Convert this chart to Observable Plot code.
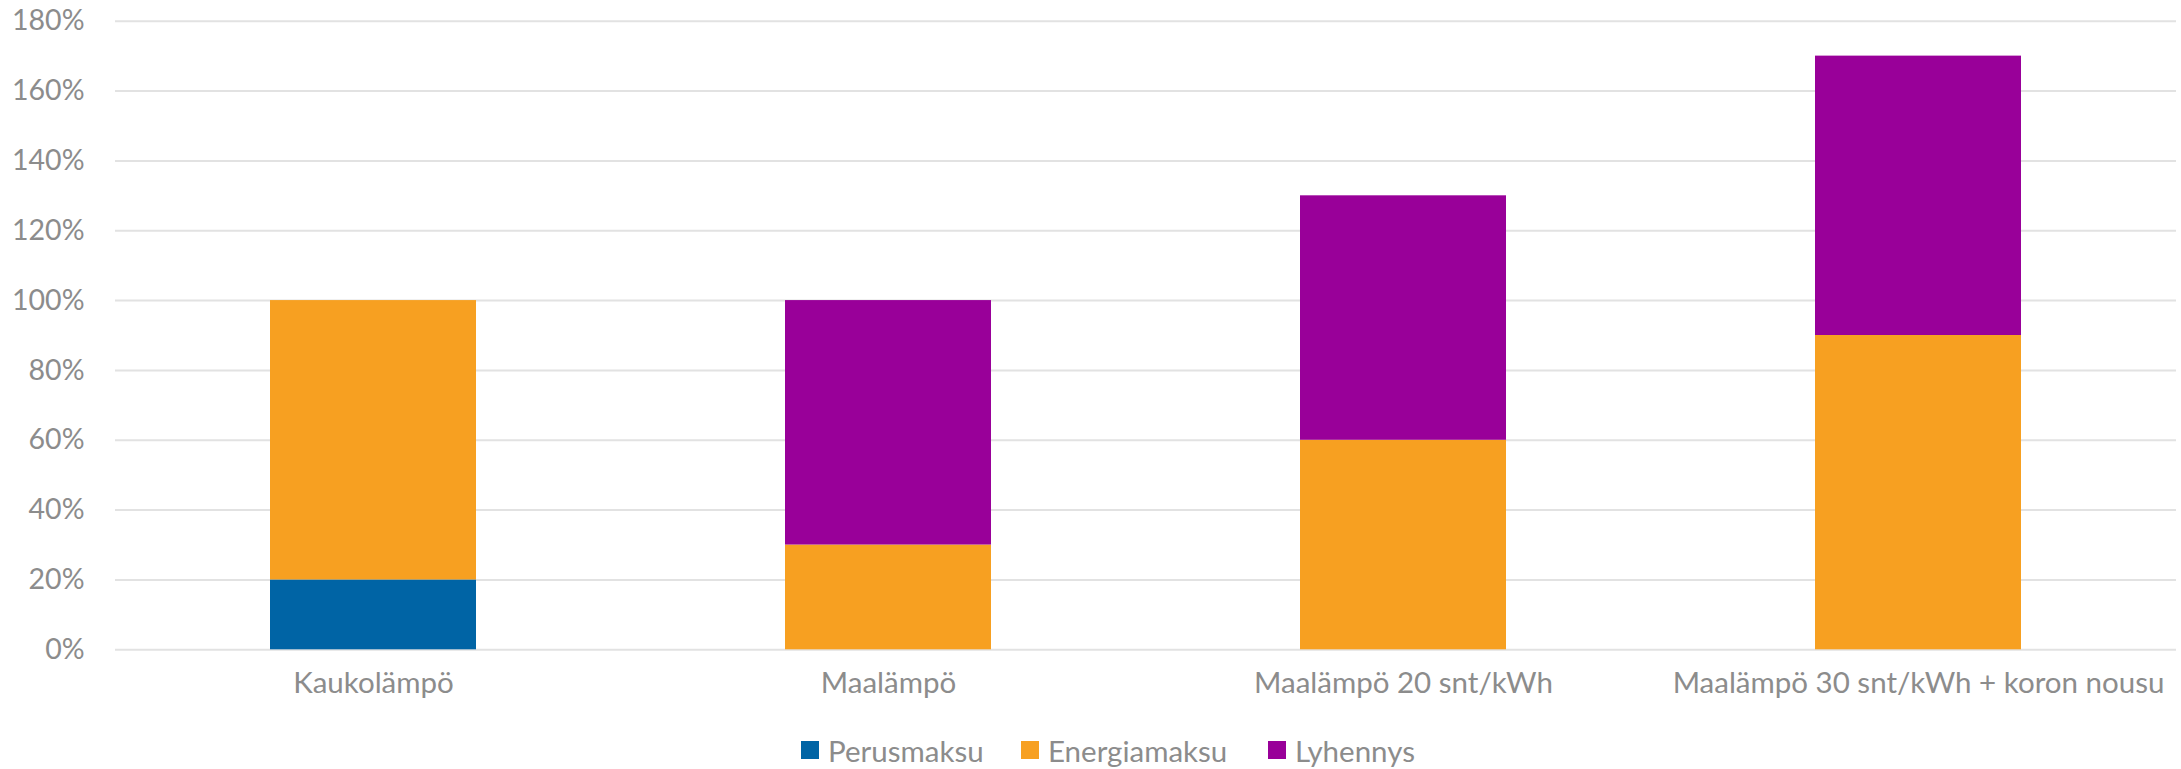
<!DOCTYPE html>
<html>
<head>
<meta charset="utf-8">
<script src="https://cdn.jsdelivr.net/npm/d3@7"></script>
<script src="https://cdn.jsdelivr.net/npm/@observablehq/plot@0.6"></script>
<style>
  body { margin: 0; background: #fff; font-family: Lato, sans-serif; }
  #legend { position: relative; height: 34px; margin-top: 13px; font-family: Lato, sans-serif; font-size: 29.5px; color: #8c8c8c; }
  #legend .item { position: absolute; top: 0; height: 34px; display: flex; align-items: center; white-space: nowrap; }
  #legend .sw { width: 18px; height: 18px; margin-right: 9px; display: inline-block; }
</style>
</head>
<body>
<div id="chart"></div>
<div id="legend"></div>
<script>
const categories = ["Kaukolämpö", "Maalämpö", "Maalämpö 20 snt/kWh", "Maalämpö 30 snt/kWh + koron nousu"];
const seriesNames = ["Perusmaksu", "Energiamaksu", "Lyhennys"];
const seriesColors = ["#0064A5", "#F7A021", "#990099"];
const perusmaksu = [20, 0, 0, 0];
const energiamaksu = [80, 30, 60, 90];
const lyhennys = [0, 70, 70, 80];
const yTicks = [0, 20, 40, 60, 80, 100, 120, 140, 160, 180];

const seriesValues = [perusmaksu, energiamaksu, lyhennys];
const data = [];
seriesNames.forEach((s, si) => {
  categories.forEach((c, ci) => {
    data.push({category: c, series: s, value: seriesValues[si][ci]});
  });
});

const W = 2181, H = 720;
const chart = Plot.plot({
  width: W,
  height: H,
  marginLeft: 115,
  marginRight: 5,
  marginTop: 20.7,
  marginBottom: H - 649.3,
  style: {fontFamily: "Lato, sans-serif", fontSize: "28.5px", color: "#8c8c8c", background: "#fff"},
  x: {type: "band", domain: categories, paddingInner: 0.6, paddingOuter: 0.3, label: null},
  y: {domain: [0, 180], label: null},
  color: {domain: seriesNames, range: seriesColors},
  marks: [
    Plot.ruleY(yTicks, {stroke: "#e2e2e2", strokeWidth: 2}),
    Plot.barY(data.filter(d => d.value > 0), Plot.stackY({order: seriesNames}, {x: "category", y: "value", fill: "series", z: "series"})),
    Plot.axisY(yTicks, {tickSize: 0, tickPadding: 31, tickFormat: d => d + "%", label: null}),
    Plot.axisX({tickSize: 0, tickPadding: 22.5, fontSize: 29.5, label: null})
  ]
});
document.getElementById("chart").appendChild(chart);

const legend = document.getElementById("legend");
const legendX = [801, 1021, 1268];
seriesNames.forEach((s, i) => {
  const item = document.createElement("div");
  item.className = "item";
  item.style.left = legendX[i] + "px";
  const sw = document.createElement("span");
  sw.className = "sw";
  sw.style.background = seriesColors[i];
  item.appendChild(sw);
  item.appendChild(document.createTextNode(s));
  legend.appendChild(item);
});
</script>
</body>
</html>
